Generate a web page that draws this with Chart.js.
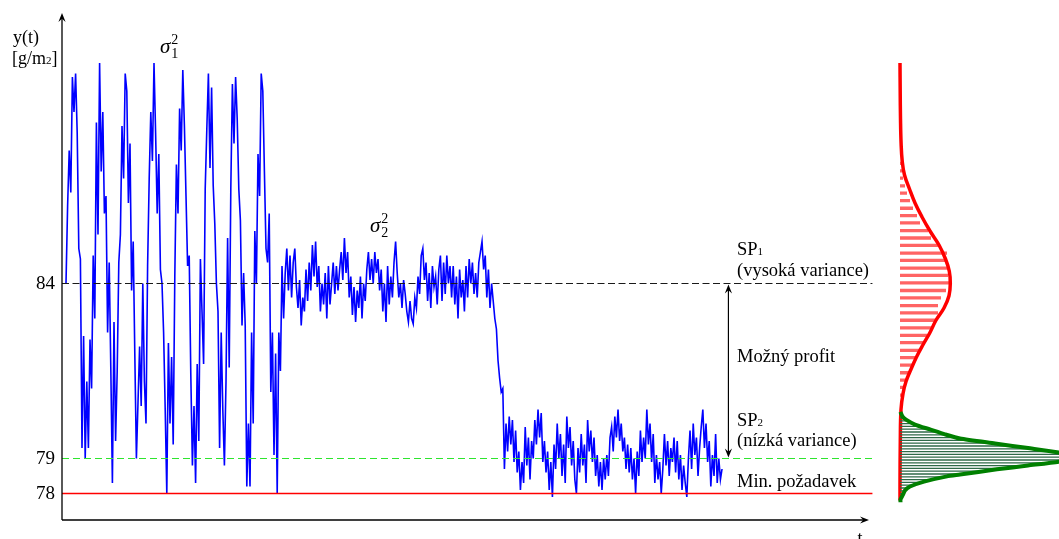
<!DOCTYPE html>
<html>
<head>
<meta charset="utf-8">
<title>Variance</title>
<style>
  html, body { margin: 0; padding: 0; background: #fff; }
  #lineChart { display: block; }
</style>
</head>
<body>
<canvas id="lineChart" width="1059" height="539"></canvas>
<script src="https://cdn.jsdelivr.net/npm/chart.js@4.4.0/dist/chart.umd.min.js"></script>
<script>
// y(t) [g/m2], one value per sample
var HIGH_VAR = [
  84.0, 86.2, 87.8, 86.6, 89.9, 88.9, 90.0, 88.3, 85.0, 84.7,
  79.3, 82.5, 79.0, 81.2, 79.3, 82.4, 81.0, 84.8, 83.0, 88.6,
  85.4, 90.3, 87.2, 88.9, 86.0, 86.5, 82.6, 84.6, 81.6, 78.3,
  82.9, 79.5, 81.5, 84.6, 85.4, 88.5, 87.0, 90.0, 89.5, 86.3,
  88.0, 83.8, 85.2, 82.0, 79.0, 80.6, 82.2, 80.5, 84.0, 81.2,
  80.0, 84.5, 87.0, 88.9, 87.5, 90.3, 88.3, 86.0, 87.7, 84.4,
  84.0, 82.6, 80.4, 78.0, 82.3, 80.0, 81.9, 79.4, 84.2, 87.4,
  86.0, 89.0, 87.8, 90.1, 88.5, 86.5, 84.5, 84.8, 81.4, 78.8,
  80.5, 78.3, 81.7, 79.5, 84.7, 83.2, 81.7, 86.7, 88.4, 90.0,
  87.3, 89.6, 86.8, 85.7, 84.0, 83.2, 79.3, 82.6, 80.4, 78.8,
  81.2, 85.3, 81.6, 86.7, 89.7, 88.0, 89.9, 88.7, 86.7, 85.8,
  82.8, 84.3, 82.8, 78.2, 80.0, 78.2, 82.6, 80.0, 85.5, 84.0,
  87.7, 86.5, 90.0, 89.5, 87.2, 85.0, 84.6, 86.0, 80.9, 82.6,
  79.1, 82.0, 78.0, 82.6, 81.5, 84.5
];
var LOW_VAR_84 = [
  83.0, 84.3, 85.0, 83.8, 84.8, 83.6, 84.6, 85.0, 83.9, 83.3,
  84.1, 82.8, 83.6, 83.2, 84.4, 83.5, 84.6, 83.8, 85.1, 84.2,
  85.2, 83.9, 84.5, 83.2, 84.0, 83.4, 84.3, 83.0, 84.5, 83.4,
  84.0, 84.6, 83.7, 84.5, 83.8, 84.4, 84.9, 84.1, 85.3, 84.3,
  84.9, 83.6, 84.2, 83.1, 83.9, 82.9, 83.8, 83.3, 84.2, 83.0,
  84.0, 83.5, 84.4, 84.9, 84.1, 84.7, 84.0, 84.9, 84.3, 84.7,
  83.8, 84.4, 83.2, 84.0, 82.9, 84.5, 83.4, 84.2, 83.6, 84.6,
  85.2, 84.3, 83.6, 84.0, 83.3, 84.1, 83.7, 83.2, 82.9, 83.5,
  83.0, 82.85, 83.6, 83.3, 84.2, 83.7, 84.8, 85.0, 84.1, 84.6,
  83.5, 84.3, 83.3, 84.5, 83.9, 84.2, 83.4, 84.4, 84.8, 83.5,
  84.6, 83.7, 84.8, 84.0, 84.5, 83.6, 84.5, 83.4, 84.2, 83.0,
  84.4, 83.6, 84.1, 83.2, 84.5, 83.6, 84.7, 84.0, 84.6, 83.7,
  84.3, 83.6, 84.6, 84.9, 85.2, 84.4, 84.8, 83.6, 84.4, 83.3,
  84.0, 83.5, 83.0
];
var DROP = [82.7, 81.8, 81.3, 80.9, 81.0, 78.7];
var LOW_VAR_79 = [
  80.0, 79.2, 80.2, 79.4, 80.1, 78.9, 79.8, 78.6, 79.2, 78.1,
  78.9, 78.3, 79.9, 78.8, 79.6, 78.4, 79.5, 79.0, 80.1, 79.4,
  80.4, 79.6, 80.3, 78.9, 79.5, 78.6, 79.2, 78.1, 78.9, 77.9,
  79.4, 78.7, 80.0, 79.0, 79.7, 78.5, 79.4, 78.3, 80.2, 79.3,
  79.9, 78.8, 79.5, 78.4, 78.0, 79.3, 78.6, 79.7, 78.8, 79.4,
  78.3, 80.1, 79.2, 79.8, 78.9, 79.6, 78.5, 79.1, 78.2, 78.9,
  78.1, 79.0, 78.4, 79.1, 78.5, 79.6, 79.9, 79.2, 80.2, 79.6,
  80.4, 79.5, 80.0, 79.2, 79.6, 78.7, 79.4, 78.6, 79.3, 78.4,
  79.0, 78.0, 79.2, 78.5, 79.8, 78.9, 79.6, 79.0, 80.4, 79.4,
  80.0, 78.9, 79.7, 78.3, 79.1, 78.4, 78.9, 78.0, 78.7, 79.7,
  78.8, 79.5, 78.5, 79.3, 78.9, 79.6, 78.6, 79.5, 78.4, 79.1,
  78.1, 78.8, 78.3, 77.9, 79.0, 79.8, 78.7, 80.0, 79.1, 79.6,
  78.5, 79.3, 79.9, 80.4, 79.3, 80.0, 78.9, 79.5, 78.2, 79.1,
  78.5, 79.7, 78.3, 79.0, 78.4, 78.7
];

var TICKS_Y = [78, 79, 84];
var SP1 = 84;       // vysoka variance
var SP2 = 79;       // nizka variance
var MIN_REQ = 78;   // min. pozadavek

// distribution on the right (value, relative frequency)
var RED_CURVE_Y = [90.3, 89.5, 88.7, 88.0, 87.5, 87.1, 86.7, 86.3, 85.9, 85.5, 85.1, 84.7, 84.35, 84.0,
  83.65, 83.3, 82.95, 82.6, 82.25, 81.9, 81.55, 81.2, 80.85, 80.4, 79.5, 78.3, 77.8];
var RED_CURVE_N = [0, 0.2, 0.5, 1.1, 2.2, 4.5, 9.5, 15, 22, 30, 39, 45.5, 49.3, 50.3,
  49, 44, 36, 30, 23, 16.5, 11, 6, 3, 1, 0.3, 0, 0];
var RED_BIN_Y = [87.43, 87.22, 87.01, 86.79, 86.58, 86.37, 86.15, 85.94, 85.73, 85.51, 85.30, 85.09,
  84.87, 84.66, 84.44, 84.23, 84.02, 83.80, 83.59, 83.37, 83.16, 82.95, 82.73, 82.52, 82.31, 82.09,
  81.88, 81.67, 81.45, 81.24, 81.03, 80.81, 80.60, 80.39, 80.17, 79.96, 79.75, 79.53, 79.32, 79.10,
  78.89, 78.68, 78.46, 78.25, 78.04];
var RED_BIN_N = [1, 2, 3, 5, 7, 10, 13, 17, 20, 28, 31, 38,
  47, 45, 47, 48, 49, 46, 41, 38, 38, 36, 33, 27, 23, 20,
  15, 13, 10, 7, 5, 3, 2, 2, 1.5, 1, 1, 1, 1, 1,
  1, 1, 1, 1, 1];
var GREEN_CURVE_Y = [80.33, 80.29, 80.2, 80.11, 79.97, 79.83, 79.69, 79.57, 79.43, 79.29, 79.17, 79.04,
  78.91, 78.8, 78.69, 78.54, 78.49, 78.34, 78.2, 78.09, 77.97, 77.83, 77.75];
var GREEN_CURVE_N = [0.5, 1, 2.5, 6, 15, 30, 45, 60, 95, 130, 159, 183,
  159, 128, 97, 60, 47, 24, 10, 5, 3, 0.5, 0.5];
var GREEN_BIN_Y = [80.157, 80.077, 79.997, 79.917, 79.837, 79.757, 79.677, 79.597, 79.517, 79.437,
  79.357, 79.277, 79.197, 79.117, 79.037, 78.957, 78.877, 78.797, 78.717, 78.637, 78.557, 78.477,
  78.397, 78.317, 78.237, 78.157, 78.077, 77.997, 77.917];
var GREEN_BIN_N = [3, 7, 12, 19, 28, 36, 45, 55, 68, 90,
  108, 128, 150, 165, 180, 170, 152, 130, 108, 88, 66, 48,
  35, 23, 14, 8, 5, 3, 2];

var SIGNAL = HIGH_VAR.concat(LOW_VAR_84, DROP, LOW_VAR_79);
var LINE_END = 504;   // sample index where the reference lines stop
var ARROW_T = 414;    // sample index of the "Mozny profit" arrow

function seriesData(vals) {
  return vals.map(function (v, i) { return { x: i, y: v }; });
}
function curveData(ys, ns) {
  return ys.map(function (y, i) { return { x: ns[i], y: y }; });
}
function hatchData(ys, ns) {
  var pts = [];
  for (var i = 0; i < ys.length; i++) {
    pts.push({ x: 0, y: ys[i] }, { x: ns[i], y: ys[i] }, { x: 0, y: null });
  }
  return pts;
}
function hLine(v) {
  return [{ x: -2.5, y: v }, { x: LINE_END, y: v }];
}

var SERIF = '"Liberation Serif", "Times New Roman", serif';

function arrowHead(c, x, y, dx, dy) {
  var L = 9, W = 3.6;
  var bx = x - dx * L, by = y - dy * L;
  c.beginPath();
  c.moveTo(x, y);
  c.lineTo(bx - dy * W, by + dx * W);
  c.lineTo(x - dx * L * 0.65, y - dy * L * 0.65);
  c.lineTo(bx + dy * W, by - dx * W);
  c.closePath();
  c.fill();
}

function subText(c, base, sub, x, y, size, subSize, dy) {
  c.font = size + 'px ' + SERIF;
  c.fillText(base, x, y);
  var w = c.measureText(base).width;
  c.font = subSize + 'px ' + SERIF;
  c.fillText(sub, x + w, y + dy);
  return x + w + c.measureText(sub).width;
}

function sigma(c, idx, x, y) {
  c.font = 'italic 21px ' + SERIF;
  c.fillText('\u03C3', x, y);
  var w = c.measureText('\u03C3').width;
  c.font = '14px ' + SERIF;
  c.fillText(idx, x + w + 1, y + 5);
  c.fillText('2', x + w + 1, y - 9);
}

var annotate = {
  id: 'annotate',
  afterDatasetsDraw: function (chart) {
    var c = chart.ctx;
    var xs = chart.scales.x, ys = chart.scales.y;
    c.save();
    c.fillStyle = '#000';
    c.strokeStyle = '#000';

    // axes with arrows
    c.lineWidth = 1.3;
    c.beginPath();
    c.moveTo(62, 520); c.lineTo(62, 18);
    c.moveTo(62, 520); c.lineTo(864, 520);
    c.stroke();
    arrowHead(c, 62, 13, 0, -1);
    arrowHead(c, 869, 520, 1, 0);

    // tick labels
    c.font = '19px ' + SERIF;
    c.textAlign = 'right';
    c.textBaseline = 'middle';
    TICKS_Y.forEach(function (v) {
      c.fillText(String(v), 55, ys.getPixelForValue(v) + 1);
    });

    c.textAlign = 'left';
    c.textBaseline = 'alphabetic';
    c.font = '18px ' + SERIF;
    c.fillText('y(t)', 13, 43);
    var e = subText(c, '[g/m', '2', 12, 64, 18, 11, 0);
    c.font = '18px ' + SERIF;
    c.fillText(']', e, 64);
    c.textAlign = 'center';
    c.fillText('t', 860, 544);
    c.textAlign = 'left';

    sigma(c, '1', 160, 53);
    sigma(c, '2', 370, 232);

    // profit arrow between the two set points
    var ax = xs.getPixelForValue(ARROW_T);
    var y1 = ys.getPixelForValue(SP1), y2 = ys.getPixelForValue(SP2);
    c.lineWidth = 1.2;
    c.beginPath();
    c.moveTo(ax, y1 + 6); c.lineTo(ax, y2 - 6);
    c.stroke();
    arrowHead(c, ax, y1 + 1, 0, -1);
    arrowHead(c, ax, y2 - 1, 0, 1);

    c.font = '18.5px ' + SERIF;
    subText(c, 'SP', '1', 737, 255, 18.5, 11, 0);
    c.font = '18.5px ' + SERIF;
    c.fillText('(vysoká variance)', 737, 276);
    c.fillText('Možný profit', 737, 362);
    subText(c, 'SP', '2', 737, 426, 18.5, 11, 0);
    c.font = '18.5px ' + SERIF;
    c.fillText('(nízká variance)', 737, 446);
    c.fillText('Min. požadavek', 737, 487);
    c.restore();
  }
};

var ctx = document.getElementById('lineChart').getContext('2d');
var myChart = new Chart(ctx, {
  type: 'line',
  data: {
    datasets: [
      { label: 'SP1', data: hLine(SP1), borderColor: '#1a1a1a', borderWidth: 1, borderDash: [7, 3.5], order: 2 },
      { label: 'SP2', data: hLine(SP2), borderColor: '#2ee52e', borderWidth: 1.2, borderDash: [7, 4], order: 2 },
      { label: 'Min', data: hLine(MIN_REQ), borderColor: '#ff0000', borderWidth: 1.3, order: 2 },
      { label: 'y(t)', data: seriesData(SIGNAL), borderColor: '#0000ff', borderWidth: 1.6, tension: 0, order: 6 },
      { label: 'red bins', xAxisID: 'xh', data: hatchData(RED_BIN_Y, RED_BIN_N), borderColor: 'rgba(255,40,40,0.72)', borderWidth: 3.3, order: 5 },
      { label: 'red curve', xAxisID: 'xh', data: curveData(RED_CURVE_Y, RED_CURVE_N), borderColor: '#ff0000', borderWidth: 3.5, tension: 0.4, order: 4 },
      { label: 'green bins', xAxisID: 'xh', data: hatchData(GREEN_BIN_Y, GREEN_BIN_N), borderColor: '#2f6a48', borderWidth: 1.3, order: 3 },
      { label: 'green curve', xAxisID: 'xh', data: curveData(GREEN_CURVE_Y, GREEN_CURVE_N), borderColor: '#008000', borderWidth: 4, tension: 0.2, order: 1 }
    ]
  },
  options: {
    responsive: false,
    animation: false,
    devicePixelRatio: 1,
    layout: { padding: { left: 62, top: 0, right: 0, bottom: 0 } },
    elements: { point: { radius: 0 }, line: { fill: false } },
    plugins: { legend: { display: false }, tooltip: { enabled: false } },
    scales: {
      x: { type: 'linear', min: -2.5, max: 620.6, display: false },
      xh: { type: 'linear', min: -838, max: 159, display: false },
      y: { type: 'linear', min: 76.7, max: 92.1, display: false }
    }
  },
  plugins: [annotate]
});
</script>
</body>
</html>
